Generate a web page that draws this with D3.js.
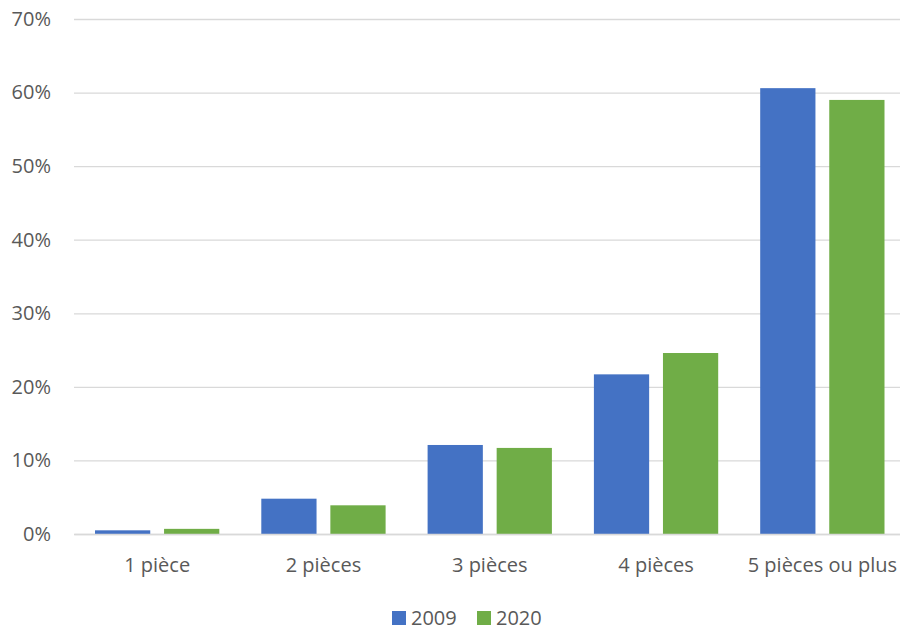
<!DOCTYPE html>
<html><head><meta charset="utf-8">
<script src="https://cdn.jsdelivr.net/npm/d3@7"></script>
<style>body{margin:0;background:#fff;overflow:hidden}svg{display:block}</style>
</head><body>
<svg id="c" width="900" height="626"></svg>
<script>
const categories = ["1 pièce","2 pièces","3 pièces","4 pièces","5 pièces ou plus"];
const series = ["2009","2020"];
const values2009 = [0.5, 4.8, 12.1, 21.7, 60.6];
const values2020 = [0.7, 3.9, 11.7, 24.6, 59.0];
const yTicks = [0,10,20,30,40,50,60,70];
const colors = ["#4472C4","#70AD47"];
const sourceText = "Source : INSEE RP 2009, RP 2020";

const svg = d3.select("#c");
const font = "'Open Sans', sans-serif";
const x = d3.scaleBand().domain(categories).range([74, 905.5]).paddingInner(0).paddingOuter(0);
const xs = d3.scaleBand().domain(series).range([21, x.bandwidth()-21]).paddingInner(0.2);
const y = d3.scaleLinear().domain([0,70]).range([534, 19]);

const ya = d3.axisLeft(y).tickValues(yTicks).tickSize(-(905-74)).tickFormat(d=>d+"%").tickPadding(23);
const g = svg.append("g").attr("transform","translate(74,0)").call(ya);
g.select(".domain").remove();
g.selectAll(".tick line").attr("stroke","#d9d9d9").attr("stroke-width",1.3);
g.selectAll(".tick text").attr("fill","#595959").style("font-family",font).style("font-size","20px");

const data = categories.map((c,i)=>({c, v:[values2009[i], values2020[i]]}));
const grp = svg.append("g").selectAll("g").data(data).join("g")
  .attr("transform", d=>`translate(${x(d.c)},0)`);
grp.selectAll("rect").data(d=>d.v.map((v,j)=>({s:series[j], v, j}))).join("rect")
  .attr("x", d=>xs(d.s)).attr("width", xs.bandwidth())
  .attr("y", d=>y(d.v)).attr("height", d=>y(0)-y(d.v))
  .attr("fill", d=>colors[d.j]);

const xa = d3.axisBottom(x).tickSize(0).tickPadding(24);
const gx = svg.append("g").attr("transform","translate(0,534)").call(xa);
gx.select(".domain").attr("stroke","#d9d9d9").attr("stroke-width",1.3);
gx.selectAll(".tick text").attr("fill","#595959").style("font-family",font).style("font-size","20px");

// legend
const leg = svg.append("g").attr("transform","translate(392,611)");
series.forEach((s,i)=>{
  const lg = leg.append("g").attr("transform",`translate(${i*85},0)`);
  lg.append("rect").attr("width",14).attr("height",14).attr("fill",colors[i]);
  lg.append("text").attr("x",19).attr("y",14).attr("fill","#595959")
    .style("font-family",font).style("font-size","20px").text(s);
});

svg.append("text").attr("x",697).attr("y",638).attr("fill","#000")
  .style("font-family",font).style("font-size","17px").text(sourceText);
</script>
</body></html>
